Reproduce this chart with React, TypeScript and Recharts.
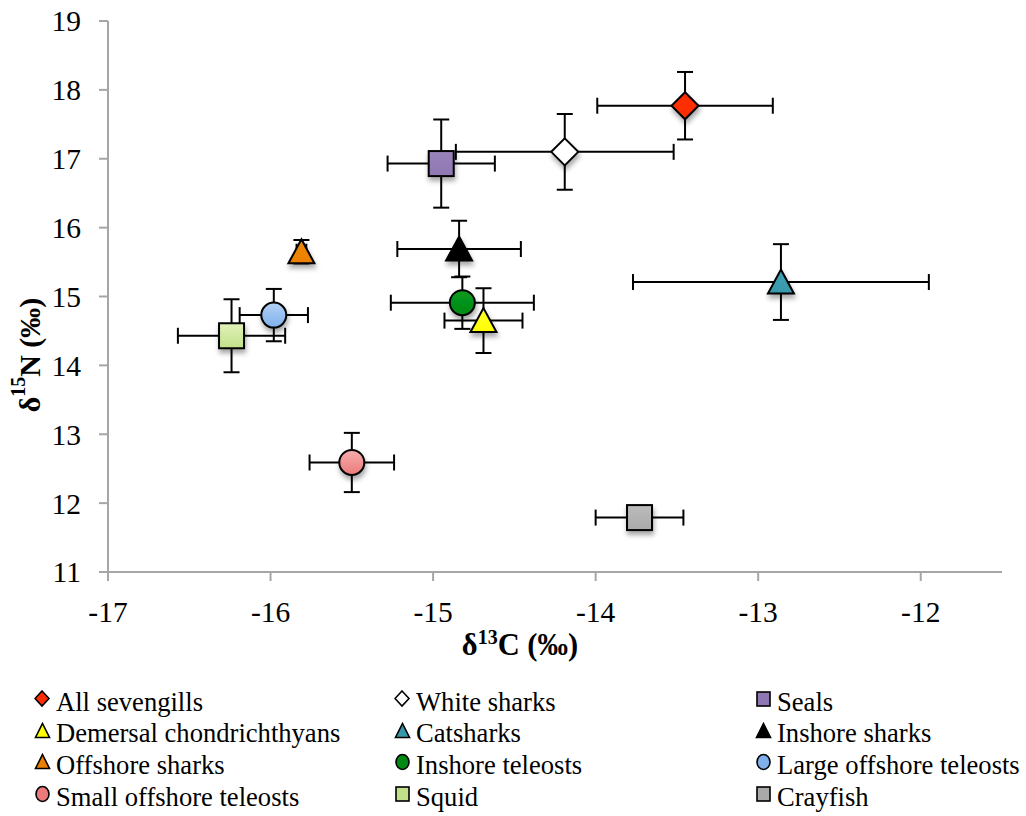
import React from "react";
import { ScatterChart, Scatter, XAxis, YAxis, ErrorBar } from "recharts";

const groups = [
  "All sevengills",
  "White sharks",
  "Seals",
  "Demersal chondrichthyans",
  "Catsharks",
  "Inshore sharks",
  "Offshore sharks",
  "Inshore teleosts",
  "Large offshore teleosts",
  "Small offshore teleosts",
  "Squid",
  "Crayfish",
];
const carbon = [-13.45, -14.19, -14.95, -14.69, -12.86, -14.84, -15.81, -14.82, -15.98, -15.5, -16.24, -13.73];
const nitrogen = [17.77, 17.1, 16.93, 14.65, 15.21, 15.69, 15.65, 14.91, 14.73, 12.59, 14.43, 11.79];
const carbonErr = [0.54, 0.67, 0.33, 0.24, 0.91, 0.38, 0.03, 0.44, 0.21, 0.26, 0.33, 0.27];
const nitrogenErr = [0.49, 0.55, 0.64, 0.47, 0.55, 0.41, 0.17, 0.38, 0.38, 0.43, 0.53, 0.08];

const xTicks = [-17, -16, -15, -14, -13, -12];
const yTicks = [11, 12, 13, 14, 15, 16, 17, 18, 19];

// marker styling, same order as groups
const kinds = ["diamond", "diamond", "square", "triangle", "triangle", "triangle", "triangle", "circle", "circle", "circle", "square", "square"];
const fills = ["#ff2e06", "#ffffff", "#8f77b3", "#ffff00", "#3898aa", "#000000", "#eb7f00", "#008a14", "#7fb0ec", "#ec7a7a", "#c2e08a", "#a9a9a9"];
const tops = ["#ff2e06", "#ffffff", "#9a84bb", "#ffff33", "#40a2b4", "#000000", "#f08a0a", "#0a9a20", "#b2d2f6", "#f6adad", "#e2f2b8", "#bcbcbc"];

const serif = "'Liberation Serif', 'Times New Roman', serif";
const AXIS = "#a6a6a6";

const series = groups.map((name, i) => ({
  name,
  data: [{ x: carbon[i], y: nitrogen[i], ex: carbonErr[i], ey: nitrogenErr[i] }],
}));

function Marker(props: any) {
  const { cx, cy, idx } = props;
  if (cx == null || cy == null) return <g />;
  const kind = kinds[idx];
  const gid = `grad-${idx}`;
  const fid = `shadow-${idx}`;
  const common = {
    fill: `url(#${gid})`,
    stroke: "#000",
    strokeWidth: 2,
    filter: `url(#${fid})`,
  };
  let el: React.ReactNode = null;
  if (kind === "diamond") {
    const r = 13.5;
    el = <polygon points={`${cx},${cy - r} ${cx + r},${cy} ${cx},${cy + r} ${cx - r},${cy}`} {...common} />;
  } else if (kind === "square") {
    el = <rect x={cx - 12.5} y={cy - 12.5} width={25} height={25} {...common} />;
  } else if (kind === "triangle") {
    el = <polygon points={`${cx},${cy - 12.5} ${cx + 13},${cy + 11.5} ${cx - 13},${cy + 11.5}`} {...common} />;
  } else {
    el = <circle cx={cx} cy={cy} r={12.5} {...common} />;
  }
  return (
    <g>
      <defs>
        <linearGradient id={gid} x1="0" y1="0" x2="0" y2="1">
          <stop offset="0%" stopColor={tops[idx]} />
          <stop offset="100%" stopColor={fills[idx]} />
        </linearGradient>
        <filter id={fid} x="-50%" y="-50%" width="200%" height="200%">
          <feDropShadow dx="1" dy="4" stdDeviation="2.5" floodColor="#000" floodOpacity="0.35" />
        </filter>
      </defs>
      {el}
    </g>
  );
}

function LegendIcon({ idx }: { idx: number }) {
  const kind = kinds[idx];
  const common = { fill: fills[idx], stroke: "#000", strokeWidth: 1.6 };
  let el: React.ReactNode;
  if (kind === "diamond") el = <polygon points="8,1 15,8.5 8,16 1,8.5" {...common} />;
  else if (kind === "square") el = <rect x={2} y={2} width={13} height={14} {...common} />;
  else if (kind === "triangle") el = <polygon points="8.5,1.5 15.5,15.5 1.5,15.5" {...common} />;
  else el = <ellipse cx={8.5} cy={9} rx={6.5} ry={7.5} {...common} />;
  return (
    <svg width={17} height={18} style={{ display: "block" }}>
      {el}
    </svg>
  );
}

const legendCols = [34, 394, 755];

function ChartLegend() {
  return (
    <div style={{ position: "absolute", left: 0, top: 686, width: 1026 }}>
      {groups.map((name, i) => {
        const col = i % 3;
        const row = Math.floor(i / 3);
        return (
          <div
            key={name}
            style={{
              position: "absolute",
              left: legendCols[col],
              top: row * 31.7,
              height: 32,
              display: "flex",
              alignItems: "center",
              whiteSpace: "nowrap",
              fontFamily: serif,
              fontSize: 26.6,
              color: "#000",
            }}
          >
            <div style={{ marginRight: 5, marginTop: -6 }}>
              <LegendIcon idx={i} />
            </div>
            <span>{name}</span>
          </div>
        );
      })}
    </div>
  );
}

const XTitle = () => (
  <text x={520} y={655} textAnchor="middle" fontFamily={serif} fontWeight="bold" fontSize={30.5} fill="#000">
    δ
    <tspan dy={-11} fontSize={20}>
      13
    </tspan>
    <tspan dy={11}>C (‰)</tspan>
  </text>
);

const YTitle = () => (
  <text
    x={29}
    y={355}
    transform="rotate(-90, 29, 355)"
    textAnchor="middle"
    dominantBaseline="central"
    fontFamily={serif}
    fontWeight="bold"
    fontSize={30}
    fill="#000"
  >
    δ
    <tspan dy={-11} fontSize={20}>
      15
    </tspan>
    <tspan dy={11}>N (‰)</tspan>
  </text>
);

export default function App() {
  return (
    <div style={{ position: "absolute", left: 0, top: 0, width: 1026, height: 816, background: "#fff" }}>
      <ScatterChart width={1026} height={680} margin={{ top: 21, right: 24, bottom: 0, left: 0 }}>
        <XAxis
          type="number"
          dataKey="x"
          domain={[-17, -11.5]}
          ticks={xTicks}
          allowDataOverflow
          height={108}
          tickSize={9}
          tickMargin={20}
          axisLine={{ stroke: AXIS, strokeWidth: 2 }}
          tickLine={{ stroke: AXIS, strokeWidth: 2 }}
          tick={{ fill: "#000", fontSize: 29.5, fontFamily: serif }}
          label={{ content: () => <XTitle /> }}
        />
        <YAxis
          type="number"
          dataKey="y"
          domain={[11, 19]}
          ticks={yTicks}
          allowDataOverflow
          width={108}
          tickSize={9}
          tickMargin={18}
          axisLine={{ stroke: AXIS, strokeWidth: 2 }}
          tickLine={{ stroke: AXIS, strokeWidth: 2 }}
          tick={{ fill: "#000", fontSize: 29.5, fontFamily: serif }}
          label={{ content: () => <YTitle /> }}
        />
        {series.map((s, i) => (
          <Scatter key={`err-${i}`} data={s.data} isAnimationActive={false} shape={() => <g />}>
            <ErrorBar dataKey="ex" direction="x" width={8} stroke="#000" strokeWidth={2} />
            <ErrorBar dataKey="ey" direction="y" width={8} stroke="#000" strokeWidth={2} />
          </Scatter>
        ))}
        {series.map((s, i) => (
          <Scatter
            key={`pt-${i}`}
            name={s.name}
            data={s.data}
            isAnimationActive={false}
            shape={(p: any) => <Marker {...p} idx={i} />}
          />
        ))}
      </ScatterChart>
      <ChartLegend />
    </div>
  );
}
